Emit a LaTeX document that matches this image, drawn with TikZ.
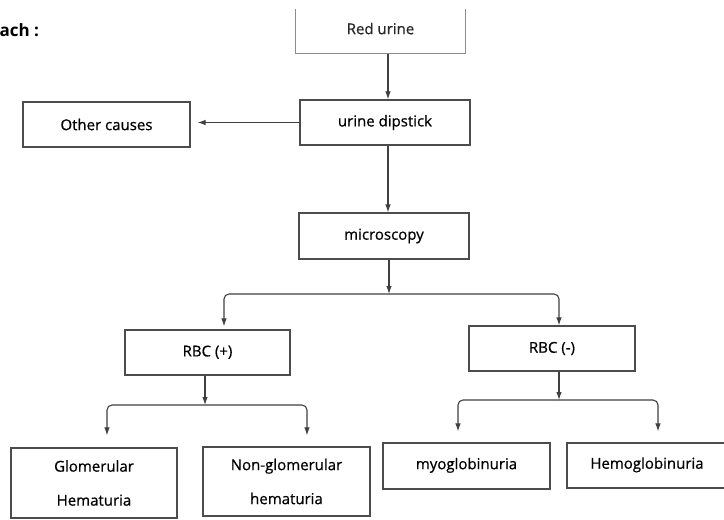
\documentclass[tikz,border=0pt]{standalone}
\usepackage{fontspec}
\setmainfont{Open Sans}
\newfontfamily\handfont{Open Sans}[FakeBold=0.6]
\usetikzlibrary{arrows.meta}
\begin{document}
\begin{tikzpicture}[x=1pt,y=-1pt,
  box/.style={draw=black!70, line width=1.2pt, minimum width=#1, inner sep=0pt,
              align=center, font=\handfont\fontsize{15}{34}\selectfont},
  link/.style={draw=black!75, line width=1.1pt,
               -{Latex[length=8pt,width=5.5pt]}},
  branch/.style={link, rounded corners=5pt}]
\clip (0,0) rectangle (724,520);
\fill[white] (0,0) rectangle (724,520);

% heading fragment at the top left
\node[anchor=west, font=\bfseries\fontsize{17}{18}\selectfont] (head) at (-4,30) {ach :};

% boxes
\node[box=169, minimum height=43, draw=none, text=black!85] (red) at (380.5,31.5) {\raisebox{6pt}{Red urine}};
\draw[black!45, line width=1.1pt] (red.north west) -- (red.south west) -- (red.south east) -- (red.north east);
\node[box=170, minimum height=45] (dip) at (385,122.5) {urine dipstick};
\node[box=167, minimum height=45] (other) at (106.5,124.5) {Other causes};
\node[box=170, minimum height=46] (micro) at (384,236) {microscopy};
\node[box=165, minimum height=45] (rbcp) at (207.5,352.5) {\raisebox{3pt}{RBC (+)}};
\node[box=166, minimum height=45] (rbcm) at (552,348.5) {RBC (-)};
\node[box=166, minimum height=70] (glom) at (94,483) {Glomerular\\Hematuria};
\node[box=167, minimum height=69] (nong) at (286.5,481.5) {Non-glomerular\\hematuria};
\node[box=167, minimum height=46] (myo) at (466.5,466) {\raisebox{5pt}{myoglobinuria}};
\node[box=160, minimum height=45] (hemo) at (647,465.5) {\raisebox{5pt}{Hemoglobinuria}};

% junction points of the branching lines
\coordinate (j1) at (389,294);
\coordinate (j2) at (205,405);
\coordinate (j3) at (559,400);

% connectors
\draw[link] ([xshift=7.5]red.south) -- ([xshift=3]dip.north);
\draw[link, shorten >=7pt] (dip.west) -- (dip.west -| other.east);
\draw[link] ([xshift=3]dip.south) -- ([xshift=4]micro.north);
\draw[link] ([xshift=5]micro.south) -- (j1);
\draw[branch, shorten >=3pt] (j1) -| ([xshift=16.5]rbcp.north);
\draw[branch] (j1) -| ([xshift=7]rbcm.north);
\draw[link] ([xshift=-2.5]rbcp.south) -- (j2);
\draw[branch, shorten >=12pt] (j2) -| ([xshift=13]glom.north);
\draw[branch, shorten >=11pt] (j2) -| ([xshift=20.5]nong.north);
\draw[link] ([xshift=7]rbcm.south) -- (j3);
\draw[branch, shorten >=11pt] (j3) -| ([xshift=-8.5]myo.north);
\draw[branch, shorten >=11pt] (j3) -| ([xshift=11]hemo.north);
\end{tikzpicture}
\end{document}
